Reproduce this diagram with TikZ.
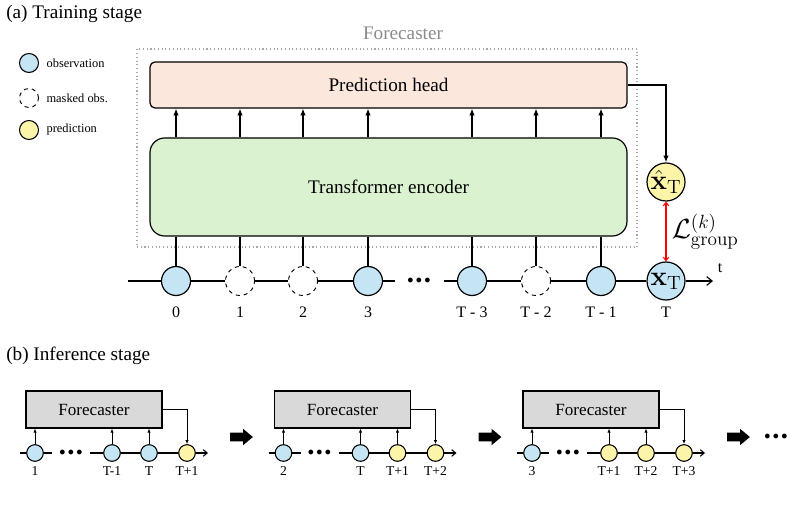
\documentclass[tikz,border=0pt]{standalone}
\usepackage[no-math]{fontspec}
\setmainfont{Liberation Serif}
\usepackage{xcolor}
\usepackage{tikz}
\usetikzlibrary{arrows.meta,positioning,shapes.arrows}
\definecolor{obsblue}{HTML}{C5E5F5}
\definecolor{predyellow}{HTML}{FCF4A8}
\definecolor{headfill}{HTML}{FCE7DD}
\definecolor{encfill}{HTML}{DAF2D0}
\definecolor{boxgray}{HTML}{D9D9D9}
\definecolor{wrapgray}{HTML}{A6A6A6}
\definecolor{titlegray}{HTML}{8C8C8C}
\tikzset{
  headbox/.style={
    draw,
    line width=0.9pt,
    rounded corners=3.75pt,
    fill=headfill,
    minimum width=357.75pt,
    minimum height=34.5pt,
    font=\fontsize{14.4}{17}\selectfont
  },
  encbox/.style={
    draw,
    line width=0.9pt,
    rounded corners=11pt,
    fill=encfill,
    minimum width=357.75pt,
    minimum height=73.5pt,
    font=\fontsize{14.4}{17}\selectfont
  },
  wrapbox/.style={draw=wrapgray, dotted, line width=0.8pt, minimum width=375pt, minimum height=148.5pt},
  obs/.style={circle, draw, line width=0.9pt, fill=obsblue, minimum size=21.75pt, inner sep=0pt},
  masked/.style={obs, dashed, line width=0.7pt, fill=white},
  bigobs/.style={obs, minimum size=28.5pt, inner sep=-4pt, font=\fontsize{22}{24}\selectfont},
  bigpred/.style={bigobs, fill=predyellow},
  tick/.style={font=\fontsize{12}{14}\selectfont, inner sep=0pt},
  legdot/.style={circle, draw, line width=0.8pt, minimum size=14.25pt, inner sep=0pt},
  legtext/.style={font=\fontsize{9.3}{11}\selectfont, inner sep=0pt},
  title/.style={font=\fontsize{14.4}{17}\selectfont, inner sep=0pt, anchor=west},
  fbox/.style={
    draw,
    line width=0.9pt,
    fill=boxgray,
    minimum width=102pt,
    minimum height=27.75pt,
    font=\fontsize{12.8}{15}\selectfont
  },
  sobs/.style={circle, draw, line width=0.8pt, fill=obsblue, minimum size=12.5pt, inner sep=0pt},
  spred/.style={sobs, fill=predyellow},
  stick/.style={font=\fontsize{10.2}{12}\selectfont, inner sep=0pt},
  dotsnode/.style={font=\fontsize{9}{11}\selectfont, inner sep=0pt},
  bigarrow/.style={single arrow, fill=black, inner xsep=0pt, inner ysep=3pt, minimum height=17pt,
    single arrow head extend=3pt, single arrow tip angle=80},
  arr/.style={-{Latex[length=5pt,width=4pt]}, line width=0.9pt},
  sarr/.style={-{Latex[length=3pt,width=2.5pt]}, line width=0.6pt},
  axis/.style={-{Straight Barb[length=4pt,width=6.5pt]}, line width=0.9pt},
  saxis/.style={-{Straight Barb[length=3pt,width=5pt]}, line width=0.8pt},
  lossarr/.style={red, line width=0.8pt, {Straight Barb[length=2.5pt,width=4pt]}-{Straight Barb[length=2.5pt,width=4pt]}}
}
\newcommand{\tdots}{${\bullet}\mkern3.5mu{\bullet}\mkern3.5mu{\bullet}$}

\begin{document}
\begin{tikzpicture}[x=0.75pt, y=-0.75pt, node distance=8pt]
  \useasboundingbox (0,0) rectangle (792,509);

  % (a) training stage
  \node[title] (titleA) at (6,14) {(a) Training stage};

  \node[legdot, fill=obsblue] (lg1) at (29,63) {};
  \node[legdot, dashed, line width=0.7pt] (lg2) at (29,98) {};
  \node[legdot, fill=predyellow] (lg3) at (29,130) {};
  \node[legtext, right=5.5pt of lg1] (lt1) {observation};
  \node[legtext, right=5.5pt of lg2] (lt2) {masked obs.};
  \node[legtext, right=5.5pt of lg3] (lt3) {prediction};

  \node[wrapbox] (wrap) at (387,148) {};
  \node[font=\fontsize{14.4}{17}\selectfont, text=titlegray] (wraptitle) at (403,33) {Forecaster};
  \node[headbox] (head) at (388.5,85) {Prediction head};
  \node[encbox] (enc) at (388.5,187) {Transformer encoder};

  \node[obs] (c0) at (176,281) {};
  \node[masked] (c1) at (240,281) {};
  \node[masked] (c2) at (303,281) {};
  \node[obs] (c3) at (368,281) {};
  \node[obs] (c4) at (472,281) {};
  \node[masked] (c5) at (536,281) {};
  \node[obs] (c6) at (601,281) {};
  \node[bigobs] (xT) at (666,281) {$\mathbf{x}_{\mathrm{T}}$};
  \node[bigpred] (xhat) at (666,182) {$\hat{\mathbf{x}}_{\mathrm{T}}$};

  \node[tick, below=of c0] (l0) {0};
  \node[tick, below=of c1] (l1) {1};
  \node[tick, below=of c2] (l2) {2};
  \node[tick, below=of c3] (l3) {3};
  \node[tick, below=of c4] (l4) {T - 3};
  \node[tick, below=of c5] (l5) {T - 2};
  \node[tick, below=of c6] (l6) {T - 1};
  \node[tick] (lT) at (xT |- l6) {T};

  \coordinate (tstart) at (128,281);
  \coordinate (gapL) at (395,281);
  \node[dotsnode] (dotsA) at (419,281) {\tdots};
  \coordinate (gapR) at (444,281);
  \coordinate (tend) at (713,281);
  \node[font=\fontsize{12}{14}\selectfont, inner sep=0pt] (tlabel) at (720,268) {t};

  \draw[line width=0.9pt] (tstart) -- (c0) -- (c1) -- (c2) -- (c3) -- (gapL);
  \draw[line width=0.9pt] (gapR) -- (c4) -- (c5) -- (c6) -- (xT);
  \draw[axis] (xT) -- (tend);

  \draw[line width=0.9pt] (c0) -- (c0 |- enc.south) (c1) -- (c1 |- enc.south)
    (c2) -- (c2 |- enc.south) (c3) -- (c3 |- enc.south) (c4) -- (c4 |- enc.south)
    (c5) -- (c5 |- enc.south) (c6) -- (c6 |- enc.south);

  \draw[arr] (c0 |- enc.north) -- (c0 |- head.south);
  \draw[arr] (c1 |- enc.north) -- (c1 |- head.south);
  \draw[arr] (c2 |- enc.north) -- (c2 |- head.south);
  \draw[arr] (c3 |- enc.north) -- (c3 |- head.south);
  \draw[arr] (c4 |- enc.north) -- (c4 |- head.south);
  \draw[arr] (c5 |- enc.north) -- (c5 |- head.south);
  \draw[arr] (c6 |- enc.north) -- (c6 |- head.south);

  \draw[arr] (head.east) -| (xhat);
  \draw[lossarr] (xhat) -- node[right=4pt, text=black, font=\fontsize{20}{22}\selectfont, inner sep=0pt] (loss)
    {$\mathcal{L}^{(k)}_{\mathrm{group}}$} (xT);

  % (b) inference stage
  \node[title] (titleB) at (6,356) {(b) Inference stage};

  % step 1
  \node[fbox] (f1) at (94,409.5) {Forecaster};
  \node[sobs] (f1a) at (35,453) {};
  \node[sobs] (f1b) at (112,453) {};
  \node[sobs] (f1c) at (149,453) {};
  \node[spred] (f1d) at (187,453) {};
  \node[stick, below=3pt of f1a] (f1la) {1};
  \node[stick, below=3pt of f1b] (f1lb) {T-1};
  \node[stick, below=3pt of f1c] (f1lc) {T};
  \node[stick, below=3pt of f1d] (f1ld) {T+1};
  \coordinate (f1s) at (20,453);
  \coordinate (f1gl) at (52,453);
  \node[dotsnode] (f1dots) at (71,453) {\tdots};
  \coordinate (f1gr) at (90,453);
  \coordinate (f1e) at (208,453);
  \draw[line width=0.8pt] (f1s) -- (f1a) -- (f1gl) (f1gr) -- (f1b) -- (f1c) -- (f1d);
  \draw[saxis] (f1d) -- (f1e);
  \draw[sarr] (f1a) -- (f1a |- f1.south);
  \draw[sarr] (f1b) -- (f1b |- f1.south);
  \draw[sarr] (f1c) -- (f1c |- f1.south);
  \draw[sarr] (f1.east) -| (f1d);

  \node[bigarrow] (go1) at (239,437) {};

  % step 2
  \node[fbox] (f2) at (342.5,409.5) {Forecaster};
  \node[sobs] (f2a) at (283.5,453) {};
  \node[sobs] (f2b) at (360.5,453) {};
  \node[spred] (f2c) at (397.5,453) {};
  \node[spred] (f2d) at (435.5,453) {};
  \node[stick, below=3pt of f2a] (f2la) {2};
  \node[stick, below=3pt of f2b] (f2lb) {T};
  \node[stick, below=3pt of f2c] (f2lc) {T+1};
  \node[stick, below=3pt of f2d] (f2ld) {T+2};
  \coordinate (f2s) at (268.5,453);
  \coordinate (f2gl) at (300.5,453);
  \node[dotsnode] (f2dots) at (319.5,453) {\tdots};
  \coordinate (f2gr) at (338.5,453);
  \coordinate (f2e) at (456.5,453);
  \draw[line width=0.8pt] (f2s) -- (f2a) -- (f2gl) (f2gr) -- (f2b) -- (f2c) -- (f2d);
  \draw[saxis] (f2d) -- (f2e);
  \draw[sarr] (f2a) -- (f2a |- f2.south);
  \draw[sarr] (f2b) -- (f2b |- f2.south);
  \draw[sarr] (f2c) -- (f2c |- f2.south);
  \draw[sarr] (f2.east) -| (f2d);

  \node[bigarrow] (go2) at (487.5,437) {};

  % step 3
  \node[fbox] (f3) at (591,409.5) {Forecaster};
  \node[sobs] (f3a) at (532,453) {};
  \node[spred] (f3b) at (609,453) {};
  \node[spred] (f3c) at (646,453) {};
  \node[spred] (f3d) at (684,453) {};
  \node[stick, below=3pt of f3a] (f3la) {3};
  \node[stick, below=3pt of f3b] (f3lb) {T+1};
  \node[stick, below=3pt of f3c] (f3lc) {T+2};
  \node[stick, below=3pt of f3d] (f3ld) {T+3};
  \coordinate (f3s) at (517,453);
  \coordinate (f3gl) at (549,453);
  \node[dotsnode] (f3dots) at (568,453) {\tdots};
  \coordinate (f3gr) at (587,453);
  \coordinate (f3e) at (705,453);
  \draw[line width=0.8pt] (f3s) -- (f3a) -- (f3gl) (f3gr) -- (f3b) -- (f3c) -- (f3d);
  \draw[saxis] (f3d) -- (f3e);
  \draw[sarr] (f3a) -- (f3a |- f3.south);
  \draw[sarr] (f3b) -- (f3b |- f3.south);
  \draw[sarr] (f3c) -- (f3c |- f3.south);
  \draw[sarr] (f3.east) -| (f3d);

  \node[bigarrow] (go3) at (736,437) {};
  \node[dotsnode] (moredots) at (776,437) {\tdots};
\end{tikzpicture}
\end{document}
